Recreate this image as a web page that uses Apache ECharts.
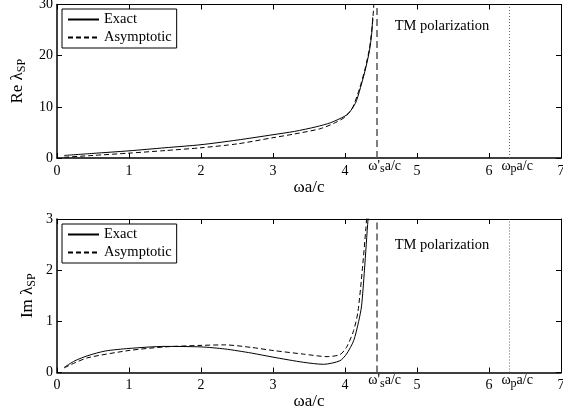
<!DOCTYPE html>
<html><head><meta charset="utf-8">
<script src="https://cdn.jsdelivr.net/npm/echarts@6/dist/echarts.min.js"></script>
<style>html,body{margin:0;padding:0;background:#fff}#c{width:563px;height:414px}</style>
</head><body><div id="c"></div>
<script>
// ---- data ----
const reExactX = [0.1, 0.5, 1.0, 1.5, 2.0, 2.5, 3.0, 3.3, 3.6, 3.8, 4.0, 4.07, 4.12, 4.16, 4.23, 4.29, 4.34, 4.37, 4.385];
const reExactY = [0.5, 0.9, 1.4, 2.0, 2.6, 3.5, 4.55, 5.2, 6.1, 6.9, 8.2, 9.1, 10.1, 11.2, 14.5, 17.7, 21.0, 24.2, 27.5];
const reAsymX  = [0.1, 0.5, 1.0, 1.5, 2.0, 2.5, 3.0, 3.3, 3.65, 3.85, 4.0, 4.1, 4.2, 4.28, 4.34, 4.38, 4.40, 4.41];
const reAsymY  = [0.15, 0.5, 0.95, 1.45, 2.0, 2.75, 3.97, 4.7, 5.7, 6.8, 8.0, 9.7, 13.5, 17.5, 21.5, 26.0, 30.0, 33.0];
const imExactX = [0.1, 0.25, 0.43, 0.67, 1.0, 1.5, 2.0, 2.33, 2.7, 3.0, 3.42, 3.7, 3.93, 4.02, 4.12, 4.19, 4.23, 4.27, 4.32, 4.34];
const imExactY = [0.10, 0.23, 0.33, 0.42, 0.47, 0.51, 0.50, 0.46, 0.38, 0.30, 0.20, 0.16, 0.23, 0.36, 0.62, 1.0, 1.3, 2.0, 3.0, 3.3];
const imAsymX  = [0.1, 0.25, 0.43, 1.0, 1.5, 2.0, 2.33, 2.7, 3.0, 3.42, 3.75, 3.93, 4.02, 4.12, 4.18, 4.24, 4.29, 4.31];
const imAsymY  = [0.09, 0.19, 0.29, 0.43, 0.50, 0.53, 0.54, 0.49, 0.43, 0.36, 0.31, 0.35, 0.49, 0.82, 1.19, 2.0, 2.82, 3.2];
const omegaS = 4.44;   // ω's a/c
const omegaP = 6.28;   // ω_p a/c
const xRange = [0, 7, 1];
const reRange = [0, 30, 10];
const imRange = [0, 3, 1];
const tmLabel = 'TM polarization';
const tmPos = { x: 4.69, re: 25.85, im: 2.49 };
const seriesNames = ['Exact', 'Asymptotic'];

// ---- chart ----
const F = 'Liberation Serif';
const zip = (a, b) => a.map((v, i) => [v, b[i]]);
const chart = echarts.init(document.getElementById('c'), null, { renderer: 'canvas' });

function xAxes(gi) {
  const base = { type: 'value', gridIndex: gi, min: xRange[0], max: xRange[1], interval: xRange[2],
    splitLine: { show: false }, axisTick: { show: true, inside: true, length: 5, lineStyle: { color: '#000' } } };
  return [
    Object.assign({}, base, { position: 'bottom',
      axisLine: { show: true, onZero: false, lineStyle: { color: '#000', width: 1.5 } },
      axisLabel: { show: true, color: '#000', fontFamily: F, fontSize: 14, margin: 6 },
      name: 'ωa/c', nameLocation: 'middle', nameGap: 20,
      nameTextStyle: { fontFamily: F, fontSize: 17, color: '#000' } }),
    Object.assign({}, base, { position: 'top',
      axisLine: { show: true, onZero: false, lineStyle: { color: '#000', width: 1 } },
      axisLabel: { show: false } })
  ];
}
function yAxes(gi, range, nameMain, gap) {
  const base = { type: 'value', gridIndex: gi, min: range[0], max: range[1], interval: range[2],
    splitLine: { show: false }, axisTick: { show: true, inside: true, length: 5, lineStyle: { color: '#000' } } };
  return [
    Object.assign({}, base, { position: 'left',
      axisLine: { show: true, onZero: false, lineStyle: { color: '#000', width: 1.5 } },
      axisLabel: { show: true, color: '#000', fontFamily: F, fontSize: 14, margin: 4 },
      name: '{a|' + nameMain + ' λ}{s|SP}', nameLocation: 'middle', nameGap: gap, nameRotate: 90,
      nameMoveOverlap: false,
      nameTextStyle: { color: '#000', rich: {
        a: { fontFamily: F, fontSize: 17, color: '#000', lineHeight: 17, padding: [0, 0, 8, 0] },
        s: { fontFamily: F, fontSize: 12, color: '#000', lineHeight: 12 } } } }),
    Object.assign({}, base, { position: 'right',
      axisLine: { show: true, onZero: false, lineStyle: { color: '#000', width: 1 } },
      axisLabel: { show: false } })
  ];
}
const markRich = {
  a: { fontFamily: F, fontSize: 14, color: '#000', lineHeight: 14, padding: [0, 0, 6, 0] },
  s: { fontFamily: F, fontSize: 12, color: '#000', lineHeight: 12 }
};
function marks() {
  return {
    silent: true, symbol: ['none', 'none'], animation: false,
    label: { show: true, position: 'start', distance: 4, padding: [0, 0, 0, 16], rich: markRich, color: '#000' },
    data: [
      { xAxis: omegaS, lineStyle: { type: [7, 4], color: '#555', width: 1.5 },
        label: { formatter: "{a|ω'}{s|s}{a|a/c}" } },
      { xAxis: omegaP, lineStyle: { type: [1, 2], color: '#666', width: 1 },
        label: { formatter: '{a|ω}{s|p}{a|a/c}' } }
    ]
  };
}
function tm(y) {
  return { silent: true, symbol: 'circle', symbolSize: 0, itemStyle: { color: 'rgba(0,0,0,0)' },
    label: { show: true, position: 'right', distance: 0, formatter: tmLabel, fontFamily: F, fontSize: 14.5, color: '#000' },
    data: [{ coord: [tmPos.x, y] }] };
}
function legend(top) {
  return { show: true, orient: 'vertical', left: 62, top: top, data: seriesNames,
    backgroundColor: '#fff', borderColor: '#000', borderWidth: 1, borderRadius: 0,
    padding: [3, 5, 3, 5], itemGap: 3, itemWidth: 31, itemHeight: 14, selectedMode: false,
    itemStyle: { opacity: 0 },
    textStyle: { fontFamily: F, fontSize: 14.5, color: '#000' } };
}
const lineSolid = { color: '#000', width: 1, type: 'solid' };
const lineDash = { color: '#000', width: 1, type: [5, 3] };

chart.setOption({
  animation: false,
  backgroundColor: '#fff',
  grid: [
    { left: 57, right: 2, top: 4.5, height: 153.5, outerBoundsMode: 'none', containLabel: false },
    { left: 57, right: 2, top: 219, height: 153.5, outerBoundsMode: 'none', containLabel: false }
  ],
  legend: [legend(9), legend(224)],
  xAxis: xAxes(0).concat(xAxes(1)),
  yAxis: yAxes(0, reRange, 'Re', 26.5).concat(yAxes(1, imRange, 'Im', 17)),
  series: [
    { type: 'line', name: seriesNames[0], xAxisIndex: 0, yAxisIndex: 0, data: zip(reExactX, reExactY),
      symbol: 'none', smooth: 0.25, lineStyle: lineSolid, itemStyle: { color: '#000' }, markLine: marks() },
    { type: 'line', name: seriesNames[1], xAxisIndex: 0, yAxisIndex: 0, data: zip(reAsymX, reAsymY),
      symbol: 'none', smooth: 0.25, lineStyle: lineDash, itemStyle: { color: '#000' }, markPoint: tm(tmPos.re) },
    { type: 'line', name: seriesNames[0], xAxisIndex: 2, yAxisIndex: 2, data: zip(imExactX, imExactY),
      symbol: 'none', smooth: 0.25, lineStyle: lineSolid, itemStyle: { color: '#000' }, markLine: marks() },
    { type: 'line', name: seriesNames[1], xAxisIndex: 2, yAxisIndex: 2, data: zip(imAsymX, imAsymY),
      symbol: 'none', smooth: 0.25, lineStyle: lineDash, itemStyle: { color: '#000' }, markPoint: tm(tmPos.im) }
  ]
});
</script>
</body></html>
